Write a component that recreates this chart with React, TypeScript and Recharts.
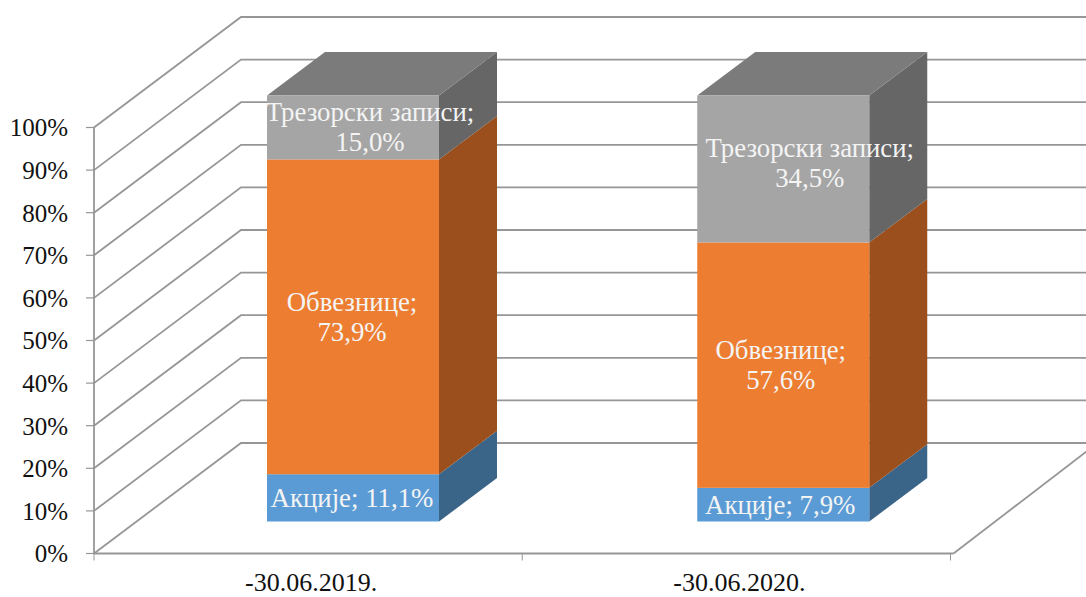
import { BarChart, Bar, XAxis, YAxis, CartesianGrid, LabelList } from "recharts";

const categories = ["-30.06.2019.", "-30.06.2020."];
const akcije = [11.1, 7.9];
const obveznice = [73.9, 57.6];
const trezorski = [15.0, 34.5];
const yTicks = [0, 10, 20, 30, 40, 50, 60, 70, 80, 90, 100];

const data = categories.map((name, i) => ({
  name,
  akcije: akcije[i],
  obveznice: obveznice[i],
  trezorski: trezorski[i],
}));

const FONT = '"Liberation Serif", "Times New Roman", serif';
const GRID = "#969696";
// 3D depth of the walls, and of the bars standing in the middle of the floor
const WALL_DX = 147;
const WALL_DY = -110.5;
const BAR_DX = 58;
const BAR_DY = -43.5;
const OFF_DX = [45, 47];
const OFF_DY = -32;
const FLOOR_Y = 553.5;

function fmtPct(v: number) {
  return v.toFixed(1).replace(".", ",") + "%";
}

function Bar3D({ x, y, width, height, fill, side, top, index }: any) {
  const fx = x + OFF_DX[index];
  const fy = y + OFF_DY;
  const r = fx + width;
  const b = fy + height;
  return (
    <g>
      <path d={`M${r} ${fy}L${r + BAR_DX} ${fy + BAR_DY}L${r + BAR_DX} ${b + BAR_DY}L${r} ${b}Z`} fill={side} />
      {top && (
        <path d={`M${fx} ${fy}L${fx + BAR_DX} ${fy + BAR_DY}L${r + BAR_DX} ${fy + BAR_DY}L${r} ${fy}Z`} fill={top} />
      )}
      <rect x={fx} y={fy} width={width} height={height} fill={fill} />
    </g>
  );
}

// each horizontal grid line becomes side wall + back wall; the floor also gets its front edge
function wallLine({ x1, x2, y1 }: any) {
  const isFloor = Math.abs(y1 - FLOOR_Y) < 1;
  const mid = (x1 + x2) / 2;
  return (
    <g key={y1} fill="none" stroke={GRID}>
      <polyline
        points={`${x1},${y1} ${x1 + WALL_DX},${y1 + WALL_DY} ${x2 + WALL_DX},${y1 + WALL_DY}`}
        strokeWidth={1.8}
      />
      {isFloor && (
        <g>
          <line x1={x2 + 3} y1={y1} x2={x2 + WALL_DX} y2={y1 + WALL_DY} strokeWidth={1.8} />
          <line x1={x1} y1={y1} x2={x2 + 3} y2={y1} strokeWidth={2} />
          <line x1={x1} y1={y1} x2={x1} y2={y1 + 7} strokeWidth={1} />
          <line x1={mid} y1={y1} x2={mid} y2={y1 + 7} strokeWidth={1} />
          <line x1={x2} y1={y1} x2={x2} y2={y1 + 7} strokeWidth={1} />
        </g>
      )}
    </g>
  );
}

function makeLabel(lines: string[], shift: number[], lift: number[], values: number[]) {
  return function Label3D({ x, y, width, height, index }: any) {
    const cx = x + OFF_DX[index] + width / 2 + shift[index];
    const cy = y + OFF_DY + height / 2 + lift[index];
    const rows = lines.length > 1 ? [lines[0], fmtPct(values[index])] : [`${lines[0]} ${fmtPct(values[index])}`];
    return (
      <text x={cx} textAnchor="middle" fontFamily={FONT} fontSize={26.8} fill="#f4f4f4">
        {rows.map((t, i) => (
          <tspan key={i} x={cx} y={cy + 9 + (i - (rows.length - 1) / 2) * 30}>
            {t}
          </tspan>
        ))}
      </text>
    );
  };
}

export default function App() {
  return (
    <div style={{ position: "absolute", left: 0, top: 0 }}>
      <BarChart
        width={1086}
        height={597}
        data={data}
        barSize={172}
        margin={{ top: 127.5, right: 135.5, bottom: 0, left: 0 }}
      >
        <CartesianGrid vertical={false} horizontal={wallLine} horizontalValues={yTicks} />
        <XAxis
          dataKey="name"
          axisLine={false}
          tickLine={false}
          height={43.5}
          interval={0}
          tickMargin={13}
          tick={{ fontSize: 26, fontFamily: FONT, fill: "#111", dx: 3 }}
        />
        <YAxis
          width={94}
          domain={[0, 100]}
          ticks={yTicks}
          interval={0}
          tickFormatter={(v: number) => `${v}%`}
          tickSize={8}
          tickMargin={18}
          axisLine={{ stroke: GRID, strokeWidth: 1.8 }}
          tickLine={{ stroke: GRID, strokeWidth: 1.2 }}
          tick={{ fontSize: 25, fontFamily: FONT, fill: "#111" }}
        />
        <Bar
          dataKey="akcije"
          stackId="a"
          isAnimationActive={false}
          fill="#5b9bd5"
          shape={(p: any) => <Bar3D {...p} side="#3a6589" />}
        >
          <LabelList dataKey="akcije" content={makeLabel(["Акције;"], [-1, -3], [0, 0], akcije)} />
        </Bar>
        <Bar
          dataKey="obveznice"
          stackId="a"
          isAnimationActive={false}
          fill="#ed7d31"
          shape={(p: any) => <Bar3D {...p} side="#9a4f1c" />}
        >
          <LabelList dataKey="obveznice" content={makeLabel(["Обвезнице;", ""], [-1, -2.5], [0, 0], obveznice)} />
        </Bar>
        <Bar
          dataKey="trezorski"
          stackId="a"
          isAnimationActive={false}
          fill="#a5a5a5"
          shape={(p: any) => <Bar3D {...p} side="#666666" top="#7b7b7b" />}
        >
          <LabelList dataKey="trezorski" content={makeLabel(["Трезорски записи;", ""], [17, 26.5], [0, -6], trezorski)} />
        </Bar>
      </BarChart>
    </div>
  );
}
